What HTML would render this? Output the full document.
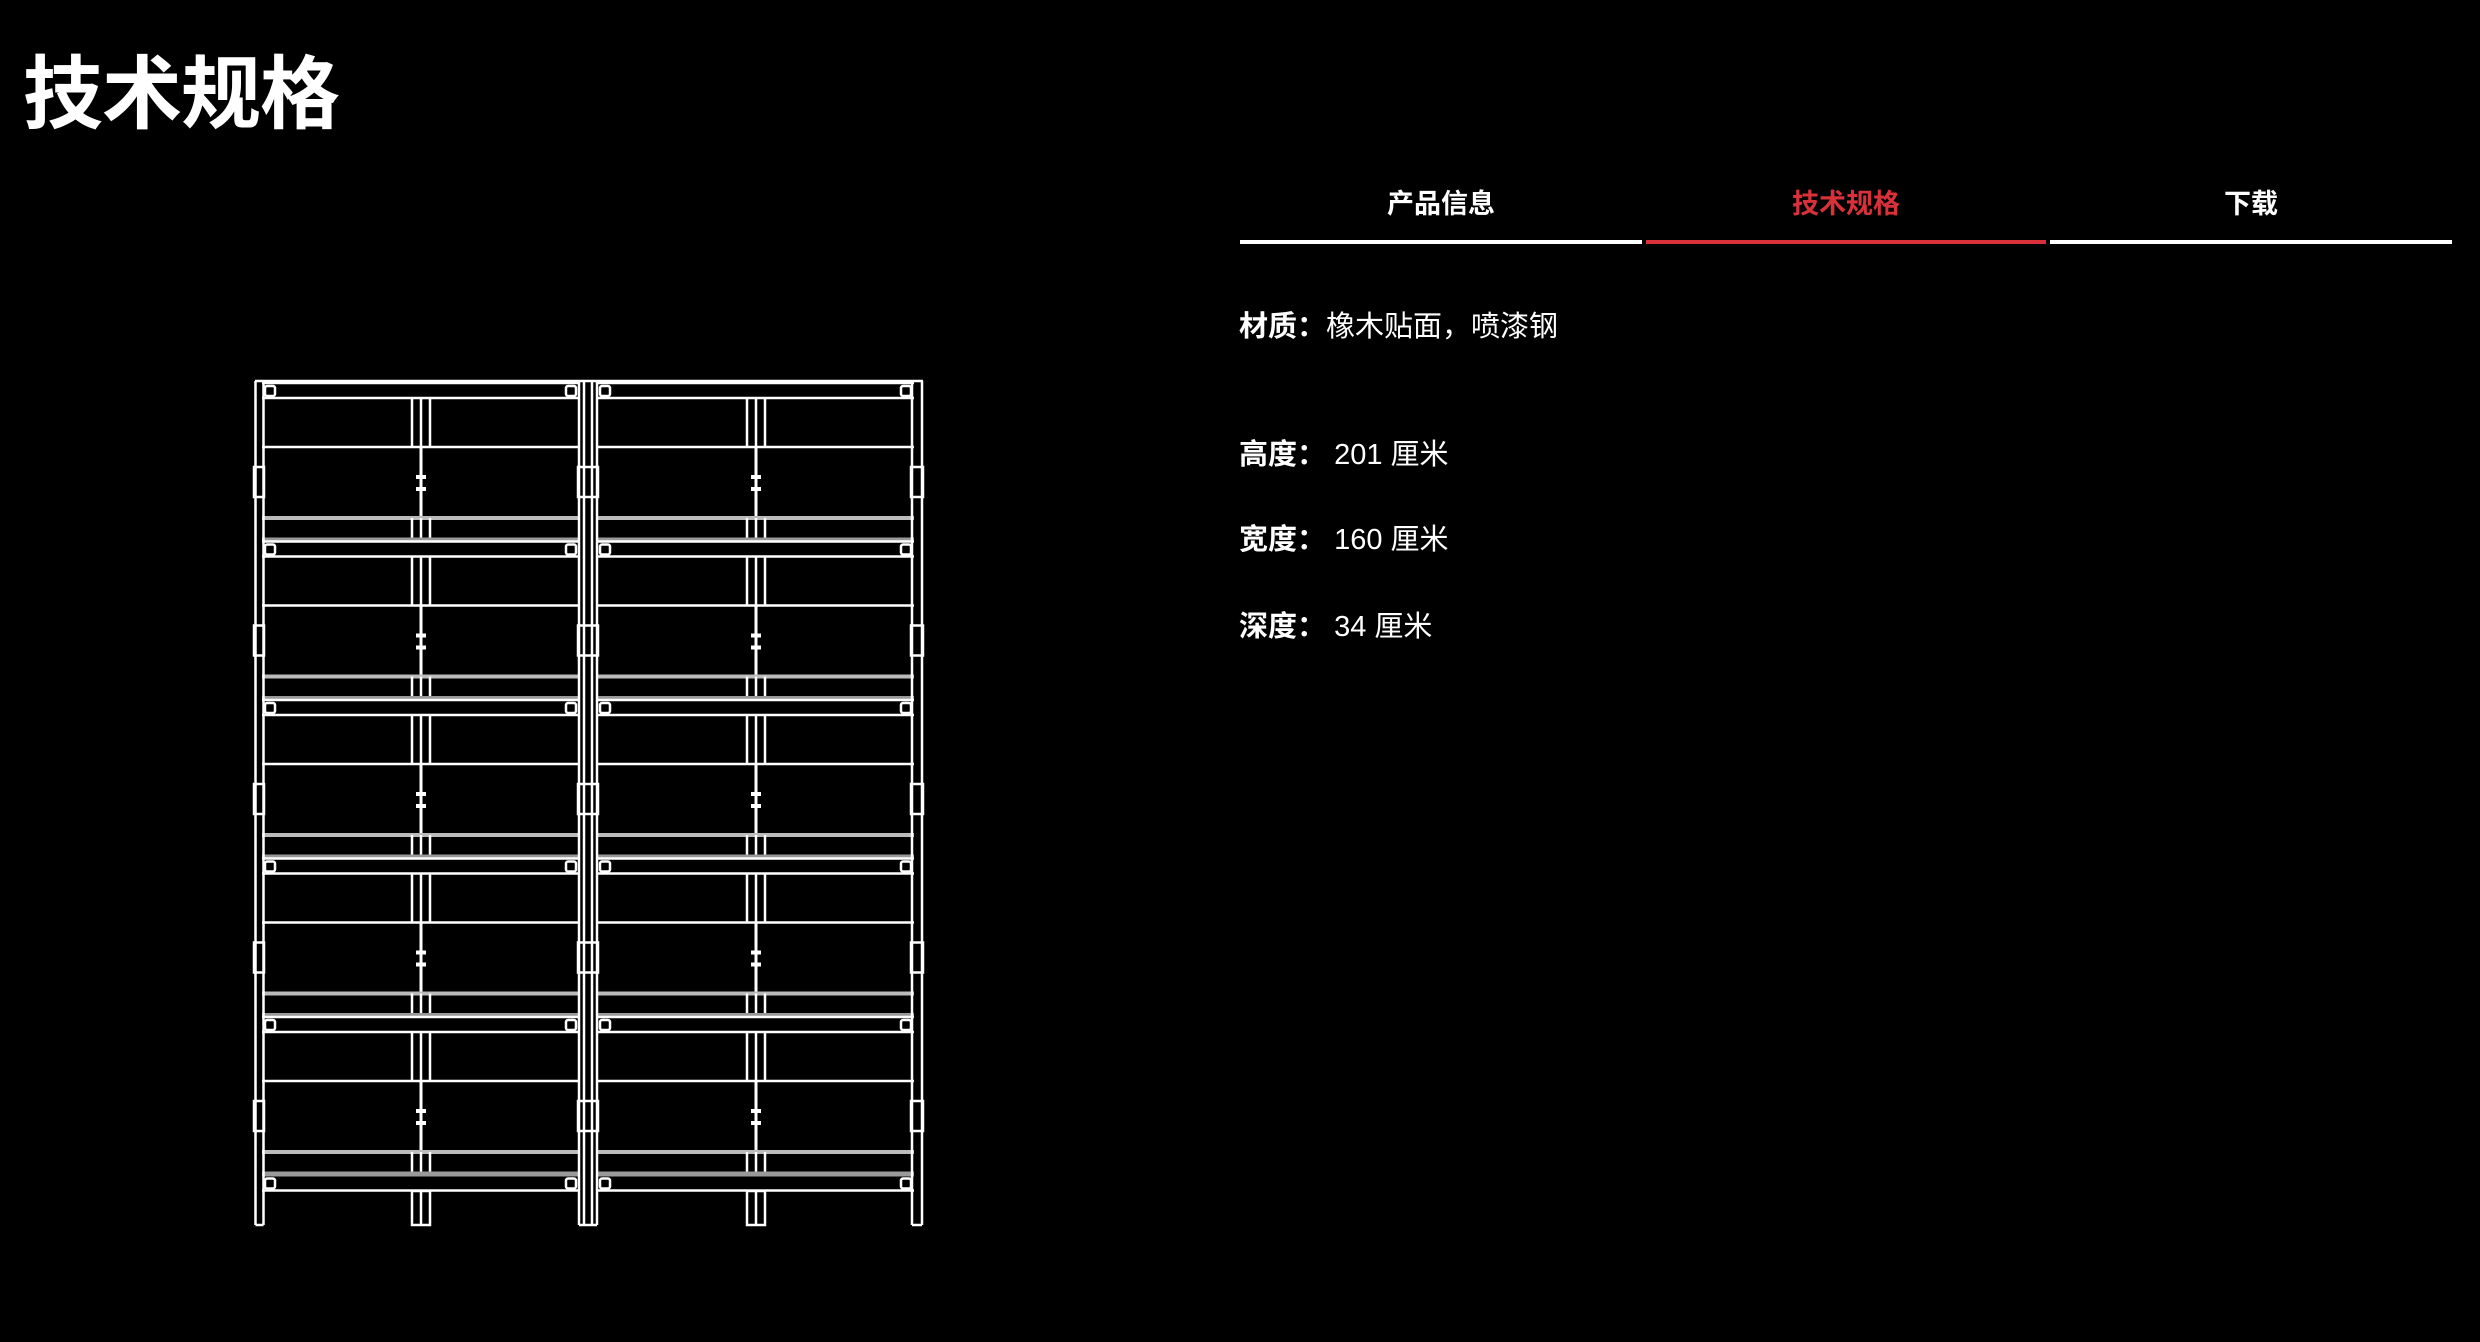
<!DOCTYPE html>
<html><head><meta charset="utf-8">
<style>
html,body{margin:0;padding:0;background:#000;}
body{width:2480px;height:1342px;position:relative;overflow:hidden;font-family:"Liberation Sans","Noto Sans CJK SC",sans-serif;color:#fff;}
.title{position:absolute;left:23px;top:45px;font-size:80px;font-weight:bold;line-height:100px;white-space:nowrap;letter-spacing:-1px;}
.tab{position:absolute;top:186px;height:36px;line-height:36px;font-size:27px;font-weight:bold;text-align:center;}
.bar{position:absolute;top:240px;height:4px;background:#fff;}
.row{position:absolute;left:1239px;font-size:29px;line-height:36px;white-space:nowrap;}
.row b{font-weight:bold;}
</style></head><body>
<div class="title">技术规格</div>

<div class="tab" style="left:1240px;width:402px;">产品信息</div>
<div class="tab" style="left:1646px;width:400px;color:#d9313a;">技术规格</div>
<div class="tab" style="left:2050px;width:402px;">下载</div>
<div class="bar" style="left:1240px;width:402px;"></div>
<div class="bar" style="left:1646px;width:400px;background:#d9313a;"></div>
<div class="bar" style="left:2050px;width:402px;"></div>

<div class="row" style="top:309px;"><b>材质：</b>橡木贴面，喷漆钢</div>
<div class="row" style="top:437px;"><b>高度：</b> 201 厘米</div>
<div class="row" style="top:522px;"><b>宽度：</b> 160 厘米</div>
<div class="row" style="top:609px;"><b>深度：</b> 34 厘米</div>

<svg width="2480" height="1342" style="position:absolute;left:0;top:0" xmlns="http://www.w3.org/2000/svg">
<defs>
  <g id="cap" stroke="#fff" stroke-width="2.5" fill="none">
    <rect x="3" y="386" width="10" height="10" rx="2"/>
    <rect x="304" y="386" width="10" height="10" rx="2"/>
    <line x1="0" y1="398" x2="317" y2="398"/>
  </g>
  <g id="bay" stroke="#fff" stroke-width="2.5" fill="none">
    <line x1="0" y1="383" x2="317" y2="383"/>
    <use href="#cap"/>
    <line x1="150" y1="398" x2="150" y2="447"/>
    <line x1="159" y1="398" x2="159" y2="447"/>
    <line x1="168" y1="398" x2="168" y2="447"/>
    <line x1="0" y1="447" x2="317" y2="447"/>
    <line x1="159" y1="447" x2="159" y2="518" stroke-width="3"/>
    <rect x="154" y="475" width="10" height="4" fill="#fff" stroke="none"/>
    <rect x="154" y="487" width="10" height="4" fill="#fff" stroke="none"/>
    <line x1="0" y1="518" x2="317" y2="518" stroke="#bbb" stroke-width="4"/>
    <line x1="150" y1="518" x2="150" y2="540"/>
    <line x1="159" y1="518" x2="159" y2="540"/>
    <line x1="168" y1="518" x2="168" y2="540"/>
    <line x1="0" y1="540" x2="317" y2="540" stroke="#999" stroke-width="5"/>
  </g>
  <g id="clips" stroke="#fff" stroke-width="2.5" fill="none">
    <rect x="254" y="467" width="10" height="30"/>
    <rect x="578" y="467" width="20" height="30"/>
    <rect x="911" y="467" width="12" height="30"/>
  </g>
</defs>
<g>
  <g transform="translate(262,0)">
    <use href="#bay"/><use href="#bay" y="158.5"/><use href="#bay" y="317"/><use href="#bay" y="475.5"/><use href="#bay" y="634"/>
    <use href="#cap" y="792.5"/>
  </g>
  <g transform="translate(597,0)">
    <use href="#bay"/><use href="#bay" y="158.5"/><use href="#bay" y="317"/><use href="#bay" y="475.5"/><use href="#bay" y="634"/>
    <use href="#cap" y="792.5"/>
  </g>
  <use href="#clips"/><use href="#clips" y="158.5"/><use href="#clips" y="317"/><use href="#clips" y="475.5"/><use href="#clips" y="634"/>
  <g stroke="#fff" stroke-width="2.5" fill="none">
    <line x1="255.5" y1="381" x2="255.5" y2="1225"/>
    <line x1="263.5" y1="381" x2="263.5" y2="1225"/>
    <line x1="255.5" y1="1225" x2="263.5" y2="1225"/>
    <line x1="579" y1="381" x2="579" y2="1225"/>
    <line x1="584" y1="381" x2="584" y2="1225"/>
    <line x1="592" y1="381" x2="592" y2="1225"/>
    <line x1="597" y1="381" x2="597" y2="1225"/>
    <line x1="579" y1="1225" x2="597" y2="1225"/>
    <line x1="912" y1="381" x2="912" y2="1225"/>
    <line x1="922" y1="381" x2="922" y2="1225"/>
    <line x1="912" y1="1225" x2="922" y2="1225"/>
    <line x1="255" y1="381" x2="923" y2="381"/>
    <rect x="412" y="1191" width="18" height="34"/>
    <line x1="421" y1="1191" x2="421" y2="1225"/>
    <rect x="747" y="1191" width="18" height="34"/>
    <line x1="756" y1="1191" x2="756" y2="1225"/>
  </g>
</g>
</svg>
</body></html>
